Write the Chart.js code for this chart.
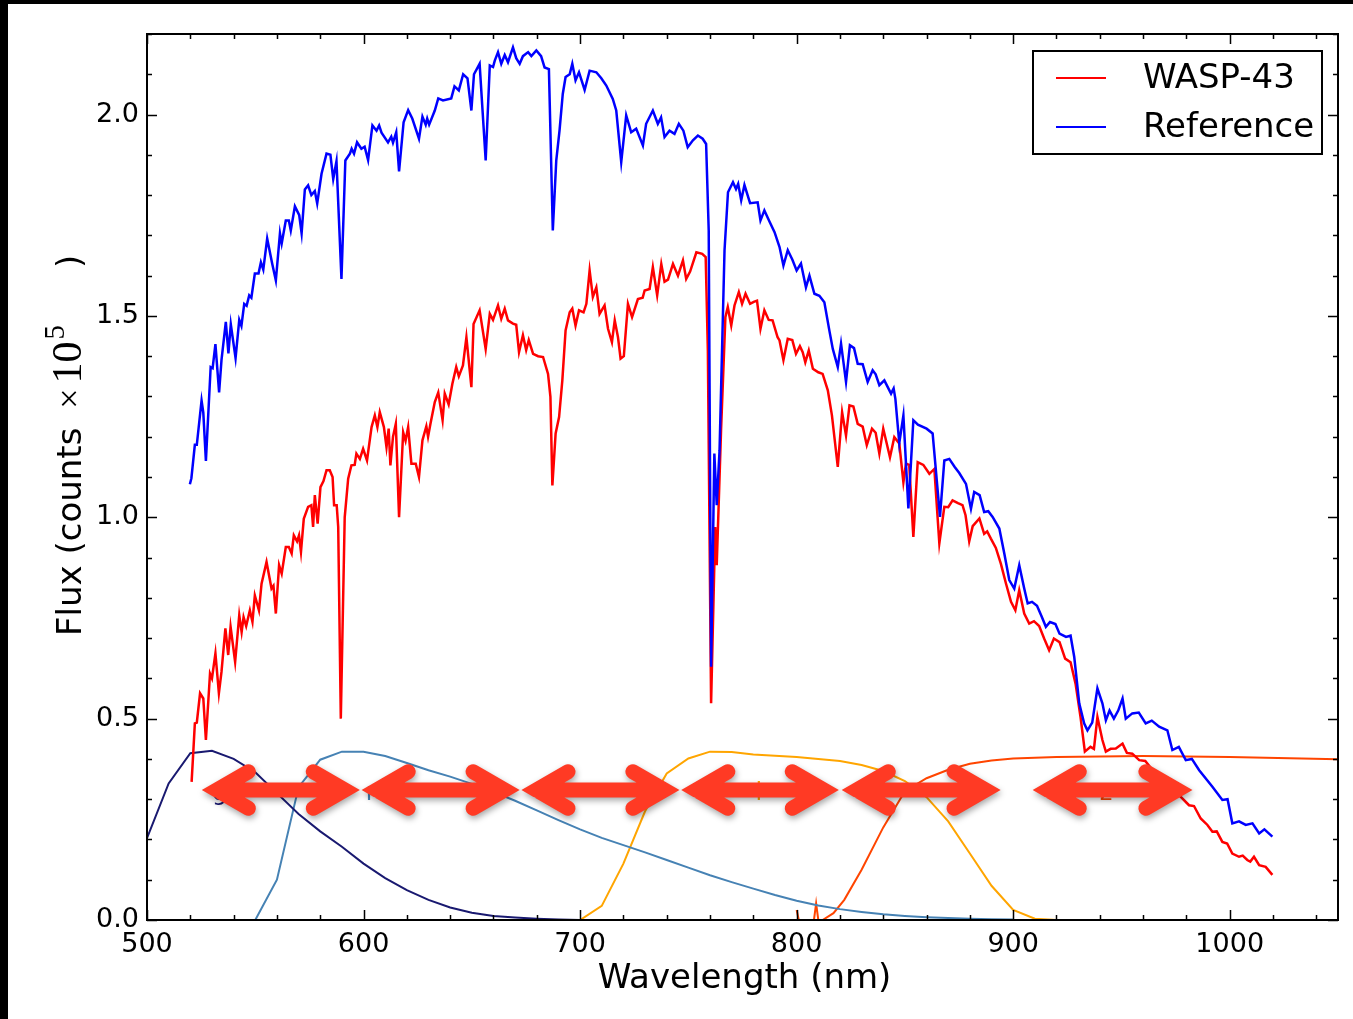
<!DOCTYPE html>
<html lang="en">
<head>
<meta charset="UTF-8">
<title>WASP-43 and reference star spectra</title>
<style>
  html, body { margin: 0; padding: 0; background: #fff; }
  #wrap { width: 1353px; height: 1019px; }
</style>
</head>
<body>
<div id="wrap"><canvas id="spec" width="1353" height="1019"></canvas></div>

<script src="https://cdn.jsdelivr.net/npm/chart.js@4.4.1/dist/chart.umd.min.js"></script>
<script>
// axis ticks
const xTicks = [500, 600, 700, 800, 900, 1000];
const yTicks = [0.0, 0.5, 1.0, 1.5, 2.0];

// WASP-43 spectrum (flux in 1e5 counts)
const waspWave = [520.6,521.2,522.1,523.0,524.5,526.0,527.2,529.1,530.0,531.6,533.2,534.4,536.2,537.5,538.6,540.7,542.6,543.7,544.6,545.8,547.5,548.7,549.8,551.7,552.9,555.2,557.5,558.4,559.5,561.0,562.2,564.1,565.5,566.8,567.8,569.3,570.2,571.1,572.4,574.4,575.9,576.7,577.5,578.8,580.1,581.5,582.9,584.4,585.7,586.4,587.6,588.3,589.5,591.3,592.9,594.4,595.9,596.7,598.3,599.8,601.6,603.7,605.2,606.4,607.5,609.4,610.6,611.6,612.4,613.6,614.9,616.4,618.3,619.4,620.6,622.1,624.1,625.6,627.2,629.0,629.8,630.9,632.9,634.5,636.5,637.5,639.3,641.0,642.8,644.0,645.9,647.5,649.8,650.8,653.6,656.4,658.3,659.8,662.1,663.6,665.2,666.7,669.0,670.5,671.8,673.6,675.1,676.3,678.3,680.6,682.9,685.2,686.3,687.2,688.7,690.3,691.8,693.3,695.2,696.4,697.9,699.5,701.6,702.9,704.4,705.9,707.5,709.0,711.3,712.9,714.7,716.0,717.5,718.7,720.2,722.1,724.0,726.7,728.9,729.8,732.1,733.6,735.6,737.5,739.0,740.6,742.9,745.2,747.5,749.0,750.8,753.7,756.4,758.0,759.0,760.5,762.4,763.1,765.1,767.1,768.2,769.8,771.3,773.3,774.8,776.4,778.5,780.2,781.7,783.3,785.1,787.1,788.9,791.2,792.1,793.9,795.9,798.0,799.7,801.5,802.8,804.0,805.6,807.5,810.0,812.0,814.4,816.3,819.0,821.0,822.8,824.4,826.2,828.2,830.5,832.4,834.8,836.5,838.2,840.0,843.1,845.1,847.4,849.3,850.5,852.0,853.9,855.9,858.5,861.3,863.6,865.9,868.2,870.0,872.0,874.5,876.6,878.0,879.7,881.3,884.4,886.6,888.0,889.7,892.0,894.3,896.7,899.0,901.0,902.8,905.1,907.4,909.6,912.0,914.3,916.6,918.8,921.4,924.0,926.5,928.8,931.1,933.1,935.7,937.3,938.9,941.2,942.8,945.0,947.4,950.5,952.5,955.0,958.2,961.0,964.4,967.4,970.0,973.0,977.4,981.2,983.5,986.6,989.7,992.0,994.0,996.6,998.8,1001.2,1004.3,1006.0,1008.1,1009.5,1011.2,1013.6,1016.6,1019.7];
const waspFlux = [0.343,0.40,0.488,0.49,0.563,0.55,0.447,0.612,0.60,0.662,0.563,0.616,0.724,0.658,0.728,0.641,0.757,0.715,0.752,0.73,0.769,0.74,0.806,0.769,0.835,0.889,0.823,0.83,0.761,0.881,0.86,0.926,0.926,0.91,0.955,0.94,0.955,0.914,0.996,1.026,1.03,0.976,1.055,0.984,1.075,1.09,1.117,1.117,1.10,1.03,1.03,0.976,0.50,1.0,1.096,1.129,1.13,1.158,1.145,1.17,1.141,1.224,1.253,1.224,1.261,1.224,1.174,1.22,1.129,1.20,1.232,1.0,1.211,1.19,1.224,1.133,1.133,1.10,1.191,1.226,1.20,1.232,1.286,1.31,1.241,1.307,1.28,1.331,1.373,1.35,1.377,1.447,1.323,1.48,1.514,1.418,1.505,1.49,1.526,1.493,1.518,1.489,1.481,1.478,1.41,1.452,1.415,1.44,1.406,1.40,1.398,1.356,1.299,1.079,1.208,1.249,1.34,1.464,1.509,1.518,1.476,1.514,1.509,1.53,1.613,1.547,1.571,1.505,1.526,1.468,1.435,1.489,1.447,1.394,1.40,1.53,1.497,1.542,1.545,1.563,1.567,1.621,1.551,1.629,1.585,1.59,1.629,1.60,1.638,1.592,1.61,1.658,1.654,1.646,1.414,0.538,0.976,0.881,1.216,1.497,1.522,1.476,1.526,1.559,1.53,1.555,1.53,1.535,1.538,1.468,1.514,1.49,1.489,1.447,1.439,1.39,1.443,1.44,1.406,1.425,1.41,1.385,1.414,1.369,1.36,1.356,1.315,1.253,1.125,1.261,1.203,1.278,1.275,1.232,1.225,1.179,1.22,1.21,1.158,1.22,1.149,1.199,1.183,1.087,1.133,1.13,0.951,1.137,1.13,1.108,1.12,0.935,1.026,1.025,1.042,1.035,1.03,1.005,0.94,0.978,0.997,0.959,0.965,0.947,0.924,0.885,0.835,0.79,0.769,0.819,0.761,0.736,0.742,0.73,0.699,0.67,0.699,0.69,0.649,0.64,0.587,0.504,0.418,0.43,0.425,0.504,0.447,0.418,0.425,0.426,0.438,0.415,0.413,0.397,0.395,0.372,0.364,0.355,0.33,0.306,0.285,0.283,0.252,0.236,0.219,0.22,0.194,0.19,0.165,0.157,0.16,0.149,0.145,0.157,0.136,0.132,0.112];

// reference star spectrum
const refWave = [519.8,520.5,522.1,523.0,525.2,526.0,527.2,529.4,530.3,531.6,533.3,534.4,536.4,537.6,538.7,540.9,542.6,543.6,544.9,546.0,547.2,548.2,549.8,551.5,552.6,553.7,555.5,557.8,559.5,561.4,562.2,564.1,565.5,566.4,568.3,570.3,571.4,572.9,574.4,575.9,577.5,578.6,580.6,582.9,584.7,586.0,587.5,589.8,591.6,593.7,594.5,595.6,597.0,599.0,600.5,602.1,604.1,606.0,607.2,608.3,611.3,612.8,613.6,615.1,616.4,618.5,620.6,622.5,625.6,627.2,628.7,629.4,630.3,632.9,634.5,636.7,640.5,642.0,644.0,646.0,648.0,649.8,651.0,653.6,656.4,658.3,659.8,660.6,662.1,663.6,665.2,666.7,669.0,670.5,672.1,673.6,676.0,677.5,679.8,682.0,683.6,685.6,687.4,689.0,690.5,692.0,693.3,695.2,696.4,697.9,699.5,702.1,704.4,707.5,709.8,712.1,715.1,716.7,719.0,721.3,723.6,725.9,729.0,730.5,733.6,735.9,737.4,739.0,741.3,743.6,745.6,747.7,749.7,752.1,754.4,756.6,758.2,759.4,760.5,762.0,763.1,764.4,766.7,768.3,770.6,772.0,773.0,774.4,775.9,778.5,782.0,783.3,785.1,787.4,789.8,792.1,793.9,795.9,798.0,800.0,802.0,804.3,805.9,808.2,810.5,812.8,815.1,816.7,819.0,820.5,822.8,824.6,826.5,828.2,830.5,832.8,835.1,836.5,838.2,840.5,843.6,844.8,845.6,847.4,849.3,851.6,853.9,856.0,860.0,862.8,866.2,868.2,870.5,873.0,875.1,878.2,880.5,882.0,884.5,886.6,888.5,890.5,893.6,895.9,898.2,900.5,902.8,905.1,906.7,908.7,911.0,913.2,915.1,917.0,919.5,921.4,924.4,926.5,928.2,930.5,932.8,934.3,936.5,938.9,941.2,942.8,944.5,946.5,948.5,950.5,952.0,955.0,958.0,961.2,964.0,967.4,971.2,973.5,976.5,979.7,982.5,985.9,992.0,996.6,999.0,1001.2,1004.3,1007.4,1010.5,1013.6,1016.0,1019.7];
const refFlux = [1.082,1.097,1.18,1.18,1.29,1.26,1.14,1.373,1.37,1.43,1.31,1.39,1.485,1.407,1.479,1.395,1.49,1.475,1.53,1.525,1.551,1.545,1.605,1.605,1.633,1.615,1.692,1.63,1.588,1.705,1.68,1.737,1.737,1.712,1.772,1.75,1.705,1.814,1.824,1.80,1.81,1.779,1.853,1.903,1.90,1.84,1.884,1.592,1.886,1.903,1.915,1.903,1.931,1.915,1.92,1.887,1.973,1.96,1.973,1.955,1.931,1.945,1.93,1.956,1.859,1.981,2.011,1.99,1.94,1.995,1.975,1.99,1.975,2.01,2.04,2.035,2.04,2.07,2.06,2.10,2.09,2.01,2.10,2.126,1.886,2.122,2.118,2.134,2.155,2.126,2.148,2.13,2.167,2.14,2.126,2.145,2.155,2.145,2.159,2.145,2.117,2.113,1.712,1.886,1.96,2.051,2.093,2.10,2.126,2.085,2.105,2.061,2.109,2.105,2.09,2.072,2.039,2.01,1.882,1.998,1.956,1.965,1.923,1.977,2.01,1.977,1.993,1.944,1.96,1.952,1.977,1.96,1.919,1.936,1.948,1.94,1.927,1.712,0.629,1.158,1.03,1.166,1.663,1.807,1.832,1.815,1.828,1.787,1.825,1.78,1.782,1.737,1.762,1.735,1.708,1.671,1.625,1.663,1.64,1.613,1.63,1.571,1.60,1.555,1.55,1.534,1.464,1.418,1.373,1.431,1.336,1.427,1.42,1.381,1.38,1.336,1.365,1.355,1.328,1.34,1.307,1.32,1.294,1.184,1.253,1.022,1.241,1.23,1.22,1.208,1.001,1.141,1.145,1.125,1.11,1.083,1.021,1.063,1.055,1.013,1.015,1.001,0.972,0.91,0.844,0.823,0.881,0.823,0.786,0.79,0.78,0.753,0.728,0.74,0.735,0.711,0.703,0.706,0.653,0.538,0.488,0.471,0.49,0.575,0.538,0.496,0.52,0.50,0.52,0.55,0.50,0.513,0.515,0.488,0.495,0.48,0.471,0.422,0.43,0.397,0.40,0.372,0.331,0.298,0.30,0.24,0.245,0.236,0.24,0.215,0.225,0.207];

// filter transmission curves
const gWave = [500,510,520,530,540,550,560,570,580,590,600,610,620,630,640,650,660,670,680,690,700];
const gResp = [0.203,0.339,0.414,0.42,0.40,0.367,0.315,0.263,0.22,0.182,0.14,0.104,0.074,0.05,0.031,0.018,0.01,0.006,0.003,0.001,0];
const rWave = [550,560,570,580,590,600,610,620,630,640,650,660,670,680,690,700,710,720,730,740,750,760,770,780,790,800,810,820,830,840,850,860,870,880,890,900];
const rResp = [0,0.10,0.33,0.398,0.418,0.418,0.407,0.39,0.372,0.356,0.338,0.318,0.296,0.272,0.248,0.225,0.204,0.186,0.168,0.149,0.13,0.111,0.094,0.078,0.062,0.048,0.036,0.027,0.02,0.014,0.01,0.007,0.005,0.003,0.002,0.001];
const iWave = [700,710,720,730,740,750,760,770,780,790,800,810,820,830,840,850,860,870,880,890,900,910,920];
const iResp = [0,0.035,0.14,0.27,0.364,0.401,0.418,0.417,0.411,0.408,0.405,0.40,0.395,0.385,0.37,0.345,0.305,0.245,0.165,0.085,0.025,0.003,0];
const zWave = [800,801,803,808,809,810,812,817,822,830,840,850,860,870,880,890,900,920,960,1000,1050];
const zResp = [0.025,0.0,0.0,0.0,0.041,0.0,0.0,0.017,0.05,0.125,0.23,0.32,0.352,0.373,0.388,0.396,0.401,0.405,0.407,0.405,0.399];

const filterNames = ['g', 'r', 'i', 'z'];
const filterColors = ['#191970', '#4682b4', '#ffa500', '#ff4500'];
const filterLabelWave = [530, 601, 781, 940];
const filterLabelFlux = [0.298, 0.298, 0.298, 0.298];

// spectral bins (double arrows)
const binStart = [525.3, 599.1, 672.9, 746.7, 820.8, 909.0];
const binEnd = [598.3, 672.1, 745.9, 819.5, 894.2, 982.8];
const binFlux = 0.323;

const FONT = '"DejaVu Sans", sans-serif';
const SERIF = '"Liberation Serif", "DejaVu Serif", serif';

function pts(xs, ys) {
    return xs.map((x, i) => ({ x: x, y: ys[i] }));
}

function lineSet(label, xs, ys, color, order, width) {
    return {
        label: label,
        data: pts(xs, ys),
        borderColor: color,
        backgroundColor: color,
        borderWidth: width,
        pointRadius: 0,
        fill: false,
        tension: 0,
        order: order
    };
}

// white page with the black strips at top and left
const pagePlugin = {
    id: 'page',
    beforeDraw(chart) {
        const ctx = chart.ctx;
        ctx.save();
        ctx.fillStyle = '#fff';
        ctx.fillRect(0, 0, chart.width, chart.height);
        ctx.fillStyle = '#000';
        ctx.fillRect(0, 0, chart.width, 4);
        ctx.fillRect(0, 0, 8, chart.height);
        ctx.restore();
    }
};

// filter names and the bin arrows on top of the curves
const arrowPlugin = {
    id: 'arrows',
    afterDatasetsDraw(chart) {
        const { ctx, scales: { x, y } } = chart;

        ctx.save();
        ctx.font = '24px ' + FONT;
        ctx.textBaseline = 'alphabetic';
        filterNames.forEach((n, i) => {
            ctx.fillStyle = filterColors[i];
            ctx.fillText(n, x.getPixelForValue(filterLabelWave[i]), y.getPixelForValue(filterLabelFlux[i]));
        });
        ctx.restore();

        const ang = Math.PI / 6, arm = 36.5, lw = 15;
        const inset = (lw / 2) / Math.sin(ang);
        const dx = arm * Math.cos(ang), dy = arm * Math.sin(ang);
        const yy = y.getPixelForValue(binFlux);

        ctx.save();
        ctx.strokeStyle = '#ff3a24';
        ctx.lineWidth = lw;
        ctx.lineCap = 'round';
        ctx.lineJoin = 'miter';
        ctx.shadowColor = 'rgba(0,0,0,0.35)';
        ctx.shadowBlur = 6;
        ctx.shadowOffsetX = 1;
        ctx.shadowOffsetY = 3;
        binStart.forEach((w0, i) => {
            const x0 = x.getPixelForValue(w0) + inset;
            const x1 = x.getPixelForValue(binEnd[i]) - inset;
            ctx.beginPath();
            ctx.moveTo(x0, yy); ctx.lineTo(x1, yy);
            ctx.moveTo(x0 + dx, yy - dy); ctx.lineTo(x0, yy); ctx.lineTo(x0 + dx, yy + dy);
            ctx.moveTo(x1 - dx, yy - dy); ctx.lineTo(x1, yy); ctx.lineTo(x1 - dx, yy + dy);
            ctx.stroke();
        });
        ctx.restore();
    }
};

// box, inward ticks, axis titles and legend
const framePlugin = {
    id: 'frame',
    afterDraw(chart) {
        const { ctx, chartArea: a, scales: { x, y } } = chart;
        ctx.save();
        ctx.strokeStyle = '#000';
        ctx.lineWidth = 1.5;
        ctx.beginPath();
        for (let v = 500; v <= 1050; v += 20) {
            const px = Math.round(x.getPixelForValue(v)) + 0.5;
            const len = xTicks.includes(v) ? 10 : 5;
            ctx.moveTo(px, a.bottom); ctx.lineTo(px, a.bottom - len);
            ctx.moveTo(px, a.top); ctx.lineTo(px, a.top + len);
        }
        for (let k = 0; k <= 22; k++) {
            const py = Math.round(y.getPixelForValue(k / 10)) + 0.5;
            const len = k % 5 === 0 ? 10 : 5;
            ctx.moveTo(a.left, py); ctx.lineTo(a.left + len, py);
            ctx.moveTo(a.right, py); ctx.lineTo(a.right - len, py);
        }
        ctx.stroke();

        ctx.lineWidth = 2;
        ctx.strokeRect(a.left, a.top, a.right - a.left, a.bottom - a.top);

        // x title
        ctx.fillStyle = '#000';
        ctx.font = '34px ' + FONT;
        ctx.textAlign = 'center';
        ctx.textBaseline = 'alphabetic';
        ctx.fillText('Wavelength (nm)', (a.left + a.right) / 2 + 2, 988);

        // y title, rotated, with a small math part
        ctx.save();
        ctx.translate(81, 636);
        ctx.rotate(-Math.PI / 2);
        ctx.textAlign = 'left';
        ctx.font = '34px ' + FONT;
        ctx.fillText('Flux (counts ', 0, 0);
        let cx = ctx.measureText('Flux (counts ').width + 8;
        ctx.font = '36px ' + SERIF;
        ctx.fillText('\u00d7', cx, 0);
        cx += ctx.measureText('\u00d7').width + 5;
        ctx.font = '42px ' + SERIF;
        ctx.fillText('10', cx, 0);
        cx += ctx.measureText('10').width + 2;
        ctx.font = '29px ' + SERIF;
        ctx.fillText('5', cx, -17);
        ctx.font = '34px ' + FONT;
        ctx.fillText(')', 368, 0);
        ctx.restore();

        // legend
        const lx = 1033, ly = 51, lwid = 289, lh = 103;
        ctx.fillStyle = '#fff';
        ctx.fillRect(lx, ly, lwid, lh);
        ctx.lineWidth = 2;
        ctx.strokeStyle = '#000';
        ctx.strokeRect(lx, ly, lwid, lh);
        ctx.font = '34px ' + FONT;
        ctx.textAlign = 'left';
        ctx.textBaseline = 'middle';
        [0, 1].forEach((di, row) => {
            const ds = chart.data.datasets[di];
            const yy = 78 + row * 49;
            ctx.strokeStyle = ds.borderColor;
            ctx.lineWidth = 2;
            ctx.beginPath();
            ctx.moveTo(1056, yy); ctx.lineTo(1106, yy);
            ctx.stroke();
            ctx.fillStyle = '#000';
            ctx.fillText(ds.label, 1143, yy + 1);
        });
        ctx.restore();
    }
};

Chart.defaults.font.family = FONT;
Chart.defaults.color = '#000';

new Chart(document.getElementById('spec'), {
    type: 'line',
    data: {
        datasets: [
            lineSet('WASP-43', waspWave, waspFlux, '#ff0000', 1, 2.5),
            lineSet('Reference', refWave, refFlux, '#0000ff', 0, 2.5),
            lineSet('g', gWave, gResp, filterColors[0], 2, 2),
            lineSet('r', rWave, rResp, filterColors[1], 3, 2),
            lineSet('i', iWave, iResp, filterColors[2], 4, 2),
            lineSet('z', zWave, zResp, filterColors[3], 5, 2)
        ]
    },
    options: {
        responsive: false,
        animation: false,
        devicePixelRatio: 1,
        layout: { padding: { top: 34, right: 15, left: 0, bottom: 0 } },
        plugins: {
            legend: { display: false },
            tooltip: { enabled: false }
        },
        scales: {
            x: {
                type: 'linear',
                min: 500,
                max: 1050,
                grid: { display: false },
                border: { display: false },
                afterBuildTicks: s => { s.ticks = xTicks.map(v => ({ value: v })); },
                afterFit: s => { s.height = 99; },
                ticks: {
                    autoSkip: false,
                    maxRotation: 0,
                    padding: 1,
                    font: { size: 27 },
                    color: '#000',
                    callback: v => String(v)
                }
            },
            y: {
                type: 'linear',
                min: 0,
                max: 2.2,
                grid: { display: false },
                border: { display: false },
                afterBuildTicks: s => { s.ticks = yTicks.map(v => ({ value: v })); },
                afterFit: s => { s.width = 147; },
                ticks: {
                    autoSkip: false,
                    padding: 0,
                    font: { size: 27 },
                    color: '#000',
                    callback: v => v.toFixed(1)
                }
            }
        }
    },
    plugins: [pagePlugin, arrowPlugin, framePlugin]
});
</script>
</body>
</html>
